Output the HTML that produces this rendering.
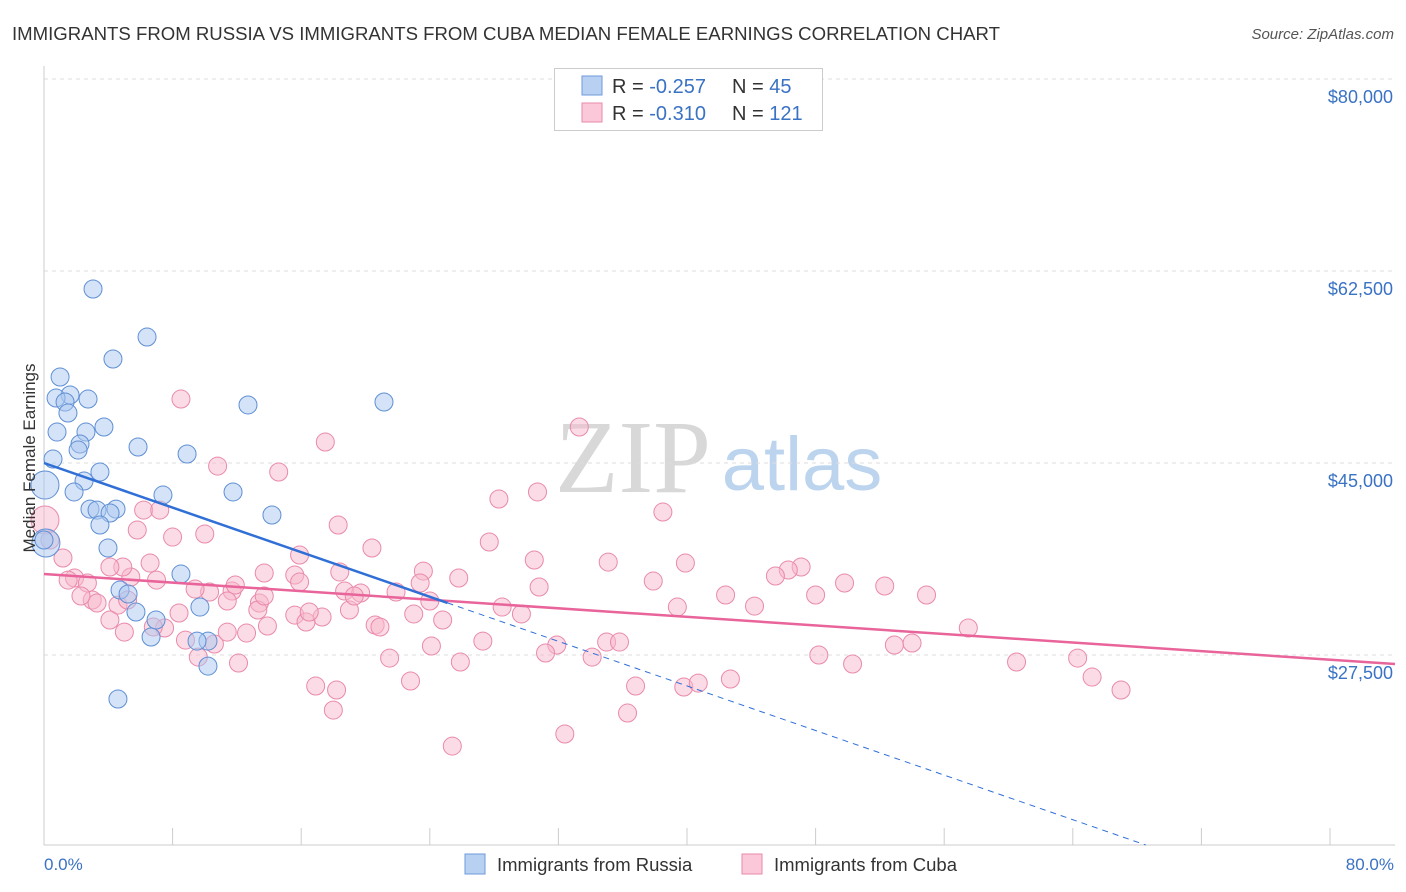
<!DOCTYPE html>
<html><head><meta charset="utf-8">
<style>
body{margin:0;background:#fff;font-family:"Liberation Sans",sans-serif;}
svg{display:block}
</style></head>
<body>
<svg id="chart" width="1406" height="892">
<text x="12" y="40" font-size="18.6" fill="#333">IMMIGRANTS FROM RUSSIA VS IMMIGRANTS FROM CUBA MEDIAN FEMALE EARNINGS CORRELATION CHART</text>
<text x="1394" y="39" font-size="15" fill="#555" font-style="italic" text-anchor="end">Source: ZipAtlas.com</text>
<g>
<text x="633" y="492" font-size="104" fill="#d8d8d8" font-family="Liberation Serif,serif" text-anchor="middle">ZIP</text>
<text x="802" y="490" font-size="76" fill="#bcd4ee" text-anchor="middle">atlas</text>
</g>
<g id="grid"></g>
<g id="axes"></g>
<g id="pts"></g>
<g id="trend"></g>
<text x="35" y="458" font-size="17" fill="#333" text-anchor="middle" transform="rotate(-90 35 458)">Median Female Earnings</text>
<text x="44" y="870" font-size="17" fill="#3a72c4">0.0%</text>
<text x="1394" y="870" font-size="17" fill="#3a72c4" text-anchor="end">80.0%</text>
<g>
<rect x="554.5" y="68.5" width="268" height="62" fill="#fff" stroke="#ccc"/>
<rect x="582" y="76" width="20" height="19" fill="#b8d1f3" stroke="#6f9ad8"/>
<rect x="582" y="103" width="20" height="19" fill="#fac8d8" stroke="#ea8aab"/>
<text x="612" y="93" font-size="20" fill="#333">R = <tspan fill="#3a72c4">-0.257</tspan><tspan x="732">N = </tspan><tspan fill="#3a72c4">45</tspan></text>
<text x="612" y="120" font-size="20" fill="#333">R = <tspan fill="#3a72c4">-0.310</tspan><tspan x="732">N = </tspan><tspan fill="#3a72c4">121</tspan></text>
</g>
<g>
<rect x="465" y="854" width="20" height="20" fill="#b8d1f3" stroke="#6f9ad8"/>
<text x="497" y="871" font-size="18.5" fill="#333">Immigrants from Russia</text>
<rect x="742" y="854" width="20" height="20" fill="#fac8d8" stroke="#ea8aab"/>
<text x="774" y="871" font-size="18.5" fill="#333">Immigrants from Cuba</text>
</g>
</svg>
<script>
const yTicks=[80000,62500,45000,27500];
const yTickLabels=["$80,000","$62,500","$45,000","$27,500"];
const xTicks=[0,8,16,24,32,40,48,56,64,72,80];
const russiaX=[3.05,6.41,4.29,1.0,1.62,0.75,2.74,1.31,1.49,12.69,21.15,3.73,0.81,2.61,2.24,5.85,2.12,0.56,8.9,3.48,2.49,1.87,7.4,11.76,2.86,4.48,3.3,4.11,14.18,3.48,3.98,0.06,0.12,8.52,4.73,5.23,9.7,5.72,6.97,6.66,10.2,9.52,10.2,4.6,0];
const russiaY=[60860,56480,54480,52840,51200,50920,50830,50560,49560,50290,50560,48280,47820,47820,46730,46460,46180,45360,45820,44180,43360,42360,42080,42360,40800,40800,40710,40440,40260,39350,37250,42990,37710,34880,33420,33060,31870,31420,30690,29140,28770,28770,26490,23490,37980];
const russiaBig=[31,32];
const cubaX=[0.06,0.37,1.18,8.52,33.3,38.5,28.3,30.7,17.5,10.8,14.6,18.3,27.7,20.4,30.5,35.1,39.9,47.1,46.3,45.5,37.9,49.8,52.3,54.9,30.8,42.4,48.0,44.2,39.4,28.5,29.7,23.6,23.4,21.9,18.7,19.7,18.4,15.9,15.6,13.7,11.7,11.9,10.3,9.4,6.6,7.0,5.4,4.9,4.1,1.9,1.5,2.7,3.0,3.3,4.6,5.2,2.3,4.1,5.8,6.2,7.2,8.0,10.0,11.4,13.4,13.3,15.6,17.3,16.3,19.0,20.6,20.9,23.0,24.8,24.1,27.3,25.9,21.5,22.8,16.9,18.2,18.0,25.4,32.4,36.3,36.8,39.8,40.7,42.7,35.0,35.8,31.9,31.2,34.1,48.2,50.3,52.9,54.0,57.5,60.5,64.3,65.2,67.0,8.4,8.8,9.6,10.6,12.1,12.6,11.4,7.5,5.0,6.8,15.9,13.9,13.7,19.3,24.0,25.8,16.5];
const cubaY=[39800,37980,36340,50830,48280,40530,41720,42360,46910,44720,44180,39350,37800,37250,36160,35970,35880,35520,35250,34700,34240,34060,33790,32970,33700,32970,32970,31960,31870,31870,31240,35150,34060,33240,33330,33150,35060,36610,34790,34970,33330,33880,33240,33510,35880,34330,34610,35520,35520,34520,34330,34060,32510,32240,32050,32510,32880,30690,38890,40710,40710,38250,38530,32420,32240,31600,31140,30960,30510,31600,30230,30050,31240,30690,28320,28770,26860,27220,25130,24670,24310,22480,19200,20300,22210,24670,24580,24940,25310,28680,28680,28410,27680,27310,27500,26680,28410,28590,29960,26860,27220,25490,24310,31330,28860,27310,28500,26770,29500,29590,29960,29590,30050,34150,30140,32880,32880,32420,34520,31420];
const cubaBig=[0];
// trend lines: [intercept, slope per %, solid-end %]
const russiaTrend=[45000,-508,25.1];
const cubaTrend=[34880,-97.6];
const NS="http://www.w3.org/2000/svg";
const X0=44,XPX=1286/80,XR=1395,YTOP=79,YPX=192/17500,YBOT=845;
const sx=v=>X0+v*XPX, sy=v=>YTOP+(80000-v)*YPX;
const minVal=80000-(YBOT-YTOP)/YPX;
function mk(tag,attrs,parent){const e=document.createElementNS(NS,tag);for(const k in attrs)e.setAttribute(k,attrs[k]);parent.appendChild(e);return e;}
const grid=document.getElementById('grid'),axes=document.getElementById('axes');
yTicks.forEach((t,i)=>{
 const l=mk('line',{x1:X0,x2:XR,y1:sy(t),y2:sy(t),stroke:'#ddd','stroke-dasharray':'4,4'},grid);
 
 
 const tx=mk('text',{x:1393,y:sy(t)+24,'font-size':18,fill:'#3a72c4','text-anchor':'end'},axes);
 tx.textContent=yTickLabels[i];
 
 
});
const ax=mk('line',{x1:X0,x2:X0,y1:66,y2:YBOT,stroke:'#ccc'},axes);


const bx=mk('line',{x1:X0,x2:XR,y1:YBOT,y2:YBOT,stroke:'#ccc'},axes);


xTicks.forEach(t=>{
 const l=mk('line',{x1:sx(t),x2:sx(t),y1:828,y2:YBOT,stroke:'#ccc'},axes);
 
 
});
const pts=document.getElementById('pts');
function draw(xs,ys,big,fill,stroke,name){
 xs.forEach((x,i)=>{
  const r=big.includes(i)?14:9;
  const c=mk('circle',{cx:sx(x),cy:sy(ys[i]),r:r,fill:fill,'fill-opacity':0.5,stroke:stroke,'stroke-width':1},pts);
  
  
 });
}
draw(cubaX,cubaY,cubaBig,'#f7b8cc','#e98aab','cuba-point');
draw(russiaX,russiaY,russiaBig,'#aac8f0','#5f8fd4','russia-point');
const trend=document.getElementById('trend');
const [cb,cm]=cubaTrend;
const xEnd=(XR-X0)/XPX;
const pl=mk('line',{x1:sx(0),y1:sy(cb),x2:sx(xEnd),y2:sy(cb+cm*xEnd),stroke:'#e8649a','stroke-width':2.5},trend);


const [rb,rm,rMax]=russiaTrend;
const bl=mk('line',{x1:sx(0),y1:sy(rb),x2:sx(rMax),y2:sy(rb+rm*rMax),stroke:'#2f6fd6','stroke-width':2.5},trend);


let xz=rm<0?(minVal-rb)/rm:xEnd; xz=Math.min(xz,xEnd);
const bd=mk('line',{x1:sx(rMax),y1:sy(rb+rm*rMax),x2:sx(xz),y2:sy(rb+rm*xz),stroke:'#2f6fd6','stroke-width':1,'stroke-dasharray':'6,5'},trend);


</script>
</body></html>
